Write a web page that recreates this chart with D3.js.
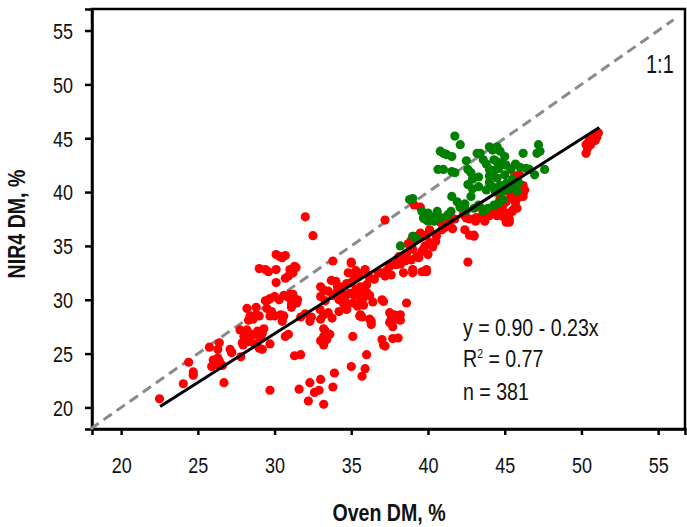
<!doctype html>
<html>
<head>
<meta charset="UTF-8">
<script src="https://cdnjs.cloudflare.com/ajax/libs/d3/7.8.5/d3.min.js"></script>
<style>
  body { margin: 0; background: #fff; }
  text { font-family: "Liberation Sans", Arial, sans-serif; fill: #111; }
</style>
</head>
<body>
<svg id="chart" width="687" height="527"></svg>
<script>
// ticks
var xTicks = [20, 25, 30, 35, 40, 45, 50, 55];
var yTicks = [20, 25, 30, 35, 40, 45, 50, 55];

// fitted line end points (Oven DM) and the 1:1 line
var fitX = [22.54, 51.16];
var fitSlope = 0.905, fitIntercept = -0.3;
var oneToOne = [18, 56];

var notes = ["y = 0.90 - 0.23x", "R2 = 0.77", "n = 381"];

// [oven DM, NIR4 DM]
var redPts = [
  [22.5,20.8],[24.05,22.2],[24.7,23.3],[24.7,23.0],[24.4,24.2],[25.75,25.6],
  [26.0,24.4],[26.2,24.0],[26.4,24.3],[26.6,23.9],[25.9,23.8],[26.3,24.6],
  [26.4,26.0],[26.3,25.4],[26.7,22.3],[27.1,25.4],[27.2,25.1],[27.95,25.8],
  [28.2,26.6],[28.3,26.3],[28.2,29.2],[28.3,28.1],[28.4,28.5],[28.2,27.2],
  [28.8,29.3],[28.6,26.8],[28.9,27.1],[29.3,27.3],[29.1,26.5],[28.7,25.9],[29.0,25.5],
  [29.0,32.9],[29.4,32.8],[29.6,32.6],[29.5,29.2],[29.7,28.5],[29.7,21.6],
  [32.0,37.7],[32.5,35.95],[30.35,34.0],[30.7,34.1],[30.5,33.9],
  [30.1,32.8],[31.0,32.8],[31.3,33.1],[31.4,33.0],[31.2,32.5],[30.7,32.0],[30.9,32.2],
  [30.1,31.6],[30.1,34.2],
  [29.4,29.9],[29.7,30.1],[30.0,30.3],[30.3,30.0],[30.6,30.4],[30.9,30.2],[31.2,30.5],[31.5,30.0],[31.1,29.6],
  [29.6,30.0],[29.8,28.9],[30.0,28.5],[30.4,28.6],[30.6,28.5],[30.5,28.0],
  [28.8,28.6],[29.0,28.5],[28.6,28.2],
  [27.75,27.2],[28.0,26.6],[28.5,26.7],[29.0,26.6],[29.2,26.9],[28.3,26.1],
  [29.2,25.4],[29.7,25.9],[30.7,26.6],[30.9,26.8],[31.3,24.8],[31.7,24.9],
  [31.7,28.4],[32.0,28.7],[32.3,28.0],[32.4,28.4],
  [33.0,28.2],[33.2,27.3],[33.3,27.1],[33.0,26.2],
  [27.2,25.1],[27.9,26.0],[27.8,24.7],
  [33.0,31.2],[33.2,30.9],[33.0,30.3],[33.3,29.9],[33.7,31.8],[34.0,31.7],[34.1,31.2],
  [33.8,33.6],[35.0,33.5],[35.3,32.7],[35.4,32.5],[35.2,32.0],
  [34.4,30.6],[34.6,30.3],[34.9,30.6],[35.2,30.4],[35.5,30.5],[35.8,30.2],[34.6,29.8],[35.1,29.7],
  [35.6,29.8],[34.2,30.0],[36.0,30.7],[35.8,29.5],[36.2,30.4],[36.4,29.8],[37.0,30.0],
  [35.6,28.6],[35.7,28.4],[36.2,28.2],[36.3,28.0],[37.0,26.3],[37.1,25.8],
  [37.8,28.6],[37.9,28.5],[37.6,28.2],[38.0,28.2],[38.2,28.6],[38.6,29.7],[37.7,26.4],
  [36.0,24.9],[35.0,23.8],[35.9,23.6],[35.7,22.9],
  [33.9,23.2],[33.0,22.6],[32.3,22.3],[31.6,21.7],
  [32.6,21.4],[32.9,21.6],[33.8,21.9],[33.2,20.3],[32.2,20.6],
  [35.0,33.4],[34.8,32.5],[35.2,32.3],[35.5,32.4],[35.9,32.8],[36.1,32.3],
  [36.2,32.0],[36.5,31.9],[36.75,32.5],[37.2,32.2],[37.5,33.1],[37.9,33.25],[38.4,32.5],
  [38.5,33.6],[38.9,33.7],[39.25,34.0],[39.7,34.65],[40.1,35.3],[40.55,35.9],[39.9,32.6],[39.0,32.5],
  [36.9,32.5],[37.3,32.7],[37.6,32.3],[38.0,33.6],[38.1,34.0],[38.6,34.3],[39.0,34.7],
  [39.4,33.9],[39.6,34.5],[40.0,34.2],[39.8,35.0],[40.3,34.9],[40.5,35.4],
  [33.5,30.8],[33.8,30.4],[34.1,30.8],[34.4,31.2],[34.7,31.5],[35.0,31.6],[35.3,31.0],
  [35.6,31.2],[36.0,31.4],[34.5,29.6],[35.4,29.4],
  [31.0,30.5],[31.2,30.0],[31.45,29.7],[31.1,29.3],
  [32.96,29.1],[33.2,28.6],[33.5,28.8],[33.75,28.3],[34.2,28.9],[34.7,29.1],
  [35.55,28.5],[36.3,27.7],[37.1,29.85],
  [37.5,28.8],[37.7,28.3],[37.5,27.9],[38.2,28.1],[37.7,27.5],
  [33.2,26.6],[33.6,26.8],[33.4,26.3],[35.1,26.6],[33.2,25.8],[37.2,25.7],[38.05,26.45],
  [38.2,33.3],[37.5,33.3],[39.0,32.8],[39.6,32.6],[39.9,32.8],
  [37.2,37.4],[39.1,38.8],[39.5,38.6],
  [45.65,41.5],[45.95,41.6],[46.3,40.2],[46.2,39.9],[46.2,39.6],
  [45.3,40.0],[45.4,39.5],[45.7,39.0],[45.8,38.5],[45.5,38.2],
  [44.7,39.4],[44.9,38.8],[45.1,39.1],[44.5,38.6],[44.3,38.3],[44.7,38.2],[44.9,37.7],[45.1,37.2],[45.3,37.2],
  [43.4,38.6],[43.6,38.1],[43.8,38.3],[44.0,37.8],[43.7,37.3],[43.4,37.6],[43.1,37.6],
  [42.1,38.6],[42.3,37.9],[42.5,37.6],[42.7,37.5],[43.1,37.3],
  [42.4,36.5],[42.7,36.0],[43.0,35.9],
  [40.8,37.2],[40.9,36.5],[41.1,36.7],[41.4,37.2],[41.75,37.5],[41.6,36.6],
  [39.5,36.2],[39.7,35.9],[39.9,36.0],[40.1,36.5],[39.1,35.9],[38.7,35.2],[38.9,35.5],
  [45.3,40.3],[46.2,40.6],[45.9,39.5],[45.7,38.6],[45.3,37.5],[45.5,38.3],[44.8,38.9],
  [44.5,37.8],[44.0,38.3],[43.6,37.9],[43.2,37.6],[44.3,38.4],[45.0,38.1],
  [43.0,36.0],[42.6,33.5],
  [50.3,44.4],[50.5,44.8],[50.7,44.7],[50.9,44.8],[51.0,45.1],[50.4,44.1],[50.6,44.4],
  [50.3,43.6],[51.1,45.5],[50.8,45.2]
];

var greenPts = [
  [41.75,45.2],[42.1,44.4],[40.8,43.8],[41.0,43.6],[41.2,43.5],[41.55,43.3],
  [40.65,42.1],[41.0,42.1],[41.55,41.9],[41.75,41.8],[42.5,42.9],[42.6,42.1],[42.8,41.8],
  [43.4,43.6],[43.6,43.0],[44.5,44.2],[44.7,43.8],[44.3,43.0],[44.5,42.8],[44.8,42.7],[45.0,43.3],
  [46.2,43.6],[47.2,44.4],[47.3,43.8],[47.1,43.6],
  [44.0,42.1],[44.3,42.0],[44.6,42.2],[45.1,42.5],[45.4,42.1],[45.7,42.6],[46.0,42.3],
  [46.4,42.2],[46.6,42.1],[46.95,41.6],[47.6,42.1],
  [42.6,40.7],[42.9,40.3],[42.8,39.6],[43.3,40.5],[44.0,40.9],[43.8,40.2],[44.2,40.5],
  [44.4,40.0],[44.7,40.6],[44.9,40.1],[45.1,40.8],[45.3,40.3],[45.6,40.6],[45.8,40.1],[45.9,40.9],
  [41.55,39.6],[41.9,39.1],[42.1,38.6],[42.4,38.9],[42.5,38.3],[43.0,38.5],[43.3,38.8],
  [43.6,38.2],[43.9,38.5],[44.3,38.8],[44.6,39.0],[44.9,39.3],
  [38.8,39.3],[39.0,39.4],
  [39.6,38.2],[39.8,37.5],[40.1,37.4],[40.4,37.3],[40.6,38.2],[40.9,37.6],[41.3,37.9],[41.5,38.2],
  [39.0,35.9],[39.25,35.7],[38.2,35.0],[40.0,38.05],[40.0,37.3],
  [43.8,42.6],[44.0,41.5],[44.5,41.3],[45.0,41.6],[45.5,41.2],[43.3,41.4],[42.9,41.2],
  [39.7,37.6],[40.1,37.75],[40.6,37.9],[43.2,43.6],[44.0,44.2],[44.2,43.9]
];

var svg = d3.select("#chart");
var padL = 92, padR = 685, padT = 9, padB = 429;
var squeeze = 0.8; // narrow the glyphs like a condensed face

var x = d3.scaleLinear().domain([18.1, 56.75]).range([padL, padR]);
var y = d3.scaleLinear().domain([18, 57]).range([padB, padT]);

// frame
svg.append("rect")
  .attr("x", padL).attr("y", padT)
  .attr("width", padR - padL).attr("height", padB - padT)
  .attr("fill", "none").attr("stroke", "#000").attr("stroke-width", 2.5);

// axes
var xAxis = svg.append("g")
  .attr("transform", "translate(0," + padB + ")")
  .call(d3.axisBottom(x).tickValues(xTicks).tickSize(6).tickPadding(0));
var yAxis = svg.append("g")
  .attr("transform", "translate(" + padL + ",0)")
  .call(d3.axisLeft(y).tickValues(yTicks).tickSize(7).tickPadding(0));

[xAxis, yAxis].forEach(function (g) {
  g.select(".domain").attr("stroke-width", 2.5);
  g.selectAll(".tick line").attr("stroke-width", 2.5);
  g.selectAll(".tick text").attr("font-size", 22.5).attr("fill", "#111")
    .style("font-family", "'Liberation Sans', Arial, sans-serif");
});
xAxis.selectAll(".tick text")
  .attr("y", 0).attr("dy", 0)
  .attr("transform", "translate(0,44) scale(" + squeeze + ",1)");
yAxis.selectAll(".tick text")
  .attr("x", 0).attr("dy", "0.35em")
  .attr("transform", "translate(-19,0) scale(" + squeeze + ",1)");

// 1:1 line
svg.append("line")
  .attr("x1", x(oneToOne[0])).attr("y1", y(oneToOne[0]))
  .attr("x2", x(oneToOne[1])).attr("y2", y(oneToOne[1]))
  .attr("stroke", "#8a8a8a").attr("stroke-width", 3)
  .attr("stroke-dasharray", "10,6");

// points
svg.append("g").selectAll("circle")
  .data(redPts).enter().append("circle")
  .attr("cx", function (d) { return x(d[0]); })
  .attr("cy", function (d) { return y(d[1]); })
  .attr("r", 4.6).attr("fill", "#ff0000");

svg.append("g").selectAll("circle")
  .data(greenPts).enter().append("circle")
  .attr("cx", function (d) { return x(d[0]); })
  .attr("cy", function (d) { return y(d[1]); })
  .attr("r", 4.6).attr("fill", "#007f00");

// fitted line
svg.append("line")
  .attr("x1", x(fitX[0])).attr("y1", y(fitIntercept + fitSlope * fitX[0]))
  .attr("x2", x(fitX[1])).attr("y2", y(fitIntercept + fitSlope * fitX[1]))
  .attr("stroke", "#000").attr("stroke-width", 3);

function label(px, py, extra) {
  return svg.append("text")
    .attr("transform", "translate(" + px + "," + py + ")" + (extra || "") + " scale(" + squeeze + ",1)");
}

// labels
label(646, 73).attr("font-size", 25).text("1:1");

label(463, 336).attr("font-size", 24.5).text(notes[0]);
var r2 = label(463, 367).attr("font-size", 24.5);
r2.append("tspan").text("R");
r2.append("tspan").attr("font-size", 13).attr("dy", -9).text("2");
r2.append("tspan").attr("dy", 9).text(notes[1].slice(2));
label(463, 400).attr("font-size", 24.5).text(notes[2]);

label(389, 521).attr("text-anchor", "middle")
  .attr("font-size", 24.5).attr("font-weight", "bold")
  .text("Oven DM, %");

label(25, 224, " rotate(-90)").attr("text-anchor", "middle")
  .attr("font-size", 24.5).attr("font-weight", "bold")
  .text("NIR4 DM, %");
</script>
</body>
</html>
